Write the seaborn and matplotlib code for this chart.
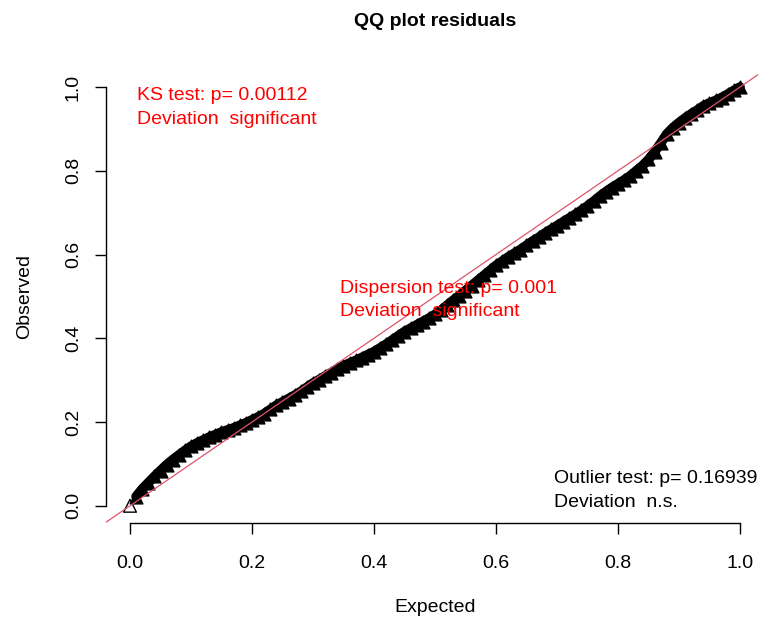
import matplotlib
matplotlib.use("Agg")
import matplotlib.pyplot as plt
import seaborn as sns
import pandas as pd

# ---- data ----
expected = [0.00, 0.01, 0.02, 0.03, 0.04, 0.05, 0.06, 0.07, 0.08, 0.09,
            0.10, 0.11, 0.12, 0.13, 0.14, 0.15, 0.16, 0.17, 0.18, 0.19,
            0.20, 0.21, 0.22, 0.23, 0.24, 0.25, 0.26, 0.27, 0.28, 0.29,
            0.30, 0.31, 0.32, 0.33, 0.34, 0.35, 0.36, 0.37, 0.38, 0.39,
            0.40, 0.41, 0.42, 0.43, 0.44, 0.45, 0.46, 0.47, 0.48, 0.49,
            0.50, 0.51, 0.52, 0.53, 0.54, 0.55, 0.56, 0.57, 0.58, 0.59,
            0.60, 0.61, 0.62, 0.63, 0.64, 0.65, 0.66, 0.67, 0.68, 0.69,
            0.70, 0.71, 0.72, 0.73, 0.74, 0.75, 0.76, 0.77, 0.78, 0.79,
            0.80, 0.81, 0.82, 0.83, 0.84, 0.85, 0.86, 0.87, 0.88, 0.89,
            0.90, 0.91, 0.92, 0.93, 0.94, 0.95, 0.96, 0.97, 0.98, 0.99,
            1.00]
observed = [0.000, 0.022, 0.040, 0.055, 0.070, 0.084, 0.098, 0.110, 0.121, 0.132,
            0.142, 0.150, 0.157, 0.164, 0.170, 0.176, 0.181, 0.186, 0.192, 0.198,
            0.205, 0.212, 0.220, 0.230, 0.240, 0.248, 0.256, 0.264, 0.273, 0.283,
            0.293, 0.301, 0.310, 0.318, 0.327, 0.334, 0.341, 0.347, 0.354, 0.361,
            0.368, 0.377, 0.386, 0.396, 0.406, 0.416, 0.424, 0.432, 0.440, 0.448,
            0.457, 0.467, 0.479, 0.491, 0.502, 0.514, 0.526, 0.538, 0.550, 0.562,
            0.574, 0.584, 0.594, 0.603, 0.612, 0.622, 0.632, 0.641, 0.651, 0.660,
            0.669, 0.678, 0.687, 0.696, 0.706, 0.716, 0.727, 0.739, 0.750, 0.760,
            0.769, 0.778, 0.788, 0.800, 0.812, 0.827, 0.845, 0.866, 0.888, 0.903,
            0.915, 0.926, 0.936, 0.945, 0.955, 0.962, 0.968, 0.975, 0.983, 0.992,
            1.000]
tick_values = [0.0, 0.2, 0.4, 0.6, 0.8, 1.0]
tick_labels = ["0.0", "0.2", "0.4", "0.6", "0.8", "1.0"]
title = "QQ plot residuals"
x_label = "Expected"
y_label = "Observed"
ks_text = ["KS test: p= 0.00112", "Deviation  significant"]
disp_text = ["Dispersion test: p= 0.001", "Deviation  significant"]
outl_text = ["Outlier test: p= 0.16939", "Deviation  n.s."]

df = pd.DataFrame({"Expected": expected, "Observed": observed})

# ---- style ----
sns.set_theme(style="white")
plt.rcParams["font.family"] = ["Liberation Sans", "DejaVu Sans"]

W, H = 758, 620
fig = plt.figure(figsize=(W / 100, H / 100), dpi=100)
# plot region in pixels: x 105.6 .. 764.4, y 70.3 .. 521.7
left, right, top, bottom = 105.6, 764.4, 70.3, 522.5
ax = fig.add_axes([left / W, 1 - bottom / H, (right - left) / W, (bottom - top) / H])
ax.set_facecolor("white")

# dense band of points (the many overlapping triangles)
sns.lineplot(data=df.iloc[1:], x="Expected", y="Observed", sort=False,
             color="black", lw=7.0, solid_capstyle="round", ax=ax, zorder=2)
sns.scatterplot(data=df.iloc[1:], x="Expected", y="Observed", marker="^", s=85,
                color="black", edgecolor="black", linewidth=1.0, ax=ax, zorder=3)
sns.scatterplot(data=df.iloc[:1], x="Expected", y="Observed", marker="^", s=85,
                facecolor="none", edgecolor="black", linewidth=1.0, ax=ax, zorder=3)

# 1:1 line
ax.axline((0, 0), slope=1, color="#DF536B", lw=0.9, zorder=4)

ax.set_xlim(-0.04, 1.04)
ax.set_ylim(-0.04, 1.04)

for s in ["top", "right"]:
    ax.spines[s].set_visible(False)
for s in ["left", "bottom"]:
    ax.spines[s].set_color("black")
    ax.spines[s].set_linewidth(1.0)
ax.spines["left"].set_bounds(0, 1)
ax.spines["bottom"].set_bounds(0, 1)

ax.set_xticks(tick_values)
ax.set_xticklabels(tick_labels)
ax.set_yticks(tick_values)
ax.set_yticklabels(tick_labels, rotation=90, va="center")
ax.tick_params(axis="both", which="major", direction="out", length=8, width=1.0,
               color="black", labelsize=14, labelcolor="black",
               bottom=True, left=True, top=False, right=False)
ax.tick_params(axis="x", pad=15.5)
ax.tick_params(axis="y", pad=9)

ax.set_xlabel(x_label, fontsize=14, color="black")
ax.set_ylabel(y_label, fontsize=14, color="black")
ax.xaxis.label.set_va("center")
ax.yaxis.label.set_va("center")
ax.xaxis.set_label_coords(0.5, -(607 - bottom) / (bottom - top))
ax.yaxis.set_label_coords(-(left - 25) / (right - left), 0.5)

ax.text(0.5, 1 + (top - 22) / (bottom - top), title, transform=ax.transAxes,
        fontsize=14, fontweight="bold", color="black", ha="center", va="center")

# annotation texts
def put(lines, x, ys, color):
    for line, yv in zip(lines, ys):
        ax.text(x, yv, line, color=color, fontsize=14, ha="left", va="center", zorder=5)

put(ks_text, 0.0107, [0.981, 0.923], "#FF0000")
put(disp_text, 0.344, [0.520, 0.464], "#FF0000")
put(outl_text, 0.695, [0.0646, 0.0072], "black")

fig.savefig("out.png", dpi=100)
